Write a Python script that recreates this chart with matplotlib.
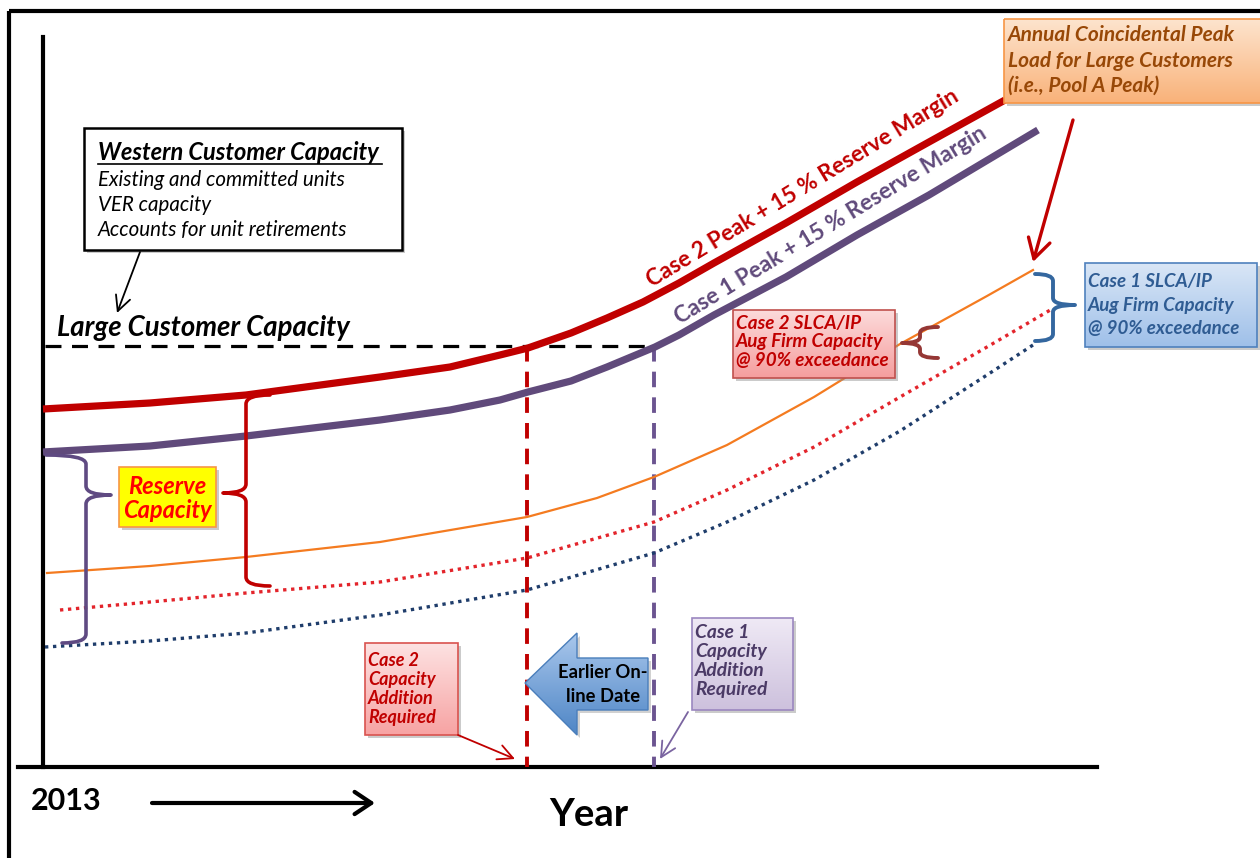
import numpy as np
import matplotlib
matplotlib.use('Agg')
import matplotlib.pyplot as plt
from matplotlib.patches import Polygon, Rectangle, PathPatch
from matplotlib.path import Path
import matplotlib.colors as mcolors

plt.rcParams['font.family'] = ['Lato', 'DejaVu Sans']

# ---------------- data (diagram space: x = time position, y = capacity level, drawn top-down) ----------------
case2_peak_x = [43, 150, 246, 380, 450, 500, 528, 571, 607, 643, 679, 714, 786, 857, 929, 1005]
case2_peak_y = [409, 403, 395, 377, 367, 355, 348, 333, 318, 302, 283, 263, 223, 182, 142, 100]
case1_peak_x = [43, 150, 246, 380, 450, 500, 528, 571, 607, 655, 679, 714, 786, 857, 929, 1038]
case1_peak_y = [452, 446, 436, 420, 410, 400, 392, 381, 367, 347, 335, 315, 277, 235, 195, 130]
pool_a_peak_x = [47, 150, 246, 380, 527, 597, 654, 727, 814, 900, 987, 1033]
pool_a_peak_y = [573, 566, 557, 542, 517, 498, 477, 445, 397, 344, 296, 270]
case2_slca_x = [60, 150, 246, 380, 527, 654, 727, 814, 900, 987, 1052]
case2_slca_y = [610, 602, 593, 582, 558, 522, 490, 447, 397, 347, 309]
case1_slca_x = [45, 150, 246, 380, 527, 654, 727, 814, 900, 987, 1033]
case1_slca_y = [647, 641, 633, 615, 590, 553, 522, 480, 431, 375, 345]
large_customer_capacity = 346
case2_addition_x = 527
case1_addition_x = 654
axis_origin_x = 43
axis_origin_y = 767

RED = '#c00000'
PURPLE = '#604a7b'
ORANGE = '#f47b20'
RED_DOT = '#e3242b'
NAVY = '#1f3d6b'

fig = plt.figure(figsize=(12.6, 8.58), dpi=100)
ax = fig.add_axes([0, 0, 1, 1])
ax.set_xlim(0, 1260)
ax.set_ylim(858, 0)
ax.axis('off')

# outer frame
ax.plot([9, 9], [11, 858], color='black', lw=3, solid_capstyle='butt', zorder=1)
ax.plot([9, 1260], [11, 11], color='black', lw=3, solid_capstyle='butt', zorder=1)

# axes
ax.plot([axis_origin_x, axis_origin_x], [37, axis_origin_y], color='black', lw=3, zorder=2)
ax.plot([18, 1097], [axis_origin_y, axis_origin_y], color='black', lw=3, zorder=2)

# horizontal capacity line
ax.plot([45, case1_addition_x], [large_customer_capacity] * 2, color='black', lw=2.3,
        linestyle=(0, (5, 3.3)), zorder=3)
# vertical addition lines
ax.plot([case2_addition_x] * 2, [large_customer_capacity, axis_origin_y], color=RED, lw=2.8,
        linestyle=(0, (4, 2.6)), zorder=3)
ax.plot([case1_addition_x] * 2, [large_customer_capacity, axis_origin_y], color='#6b5490', lw=2.8,
        linestyle=(0, (4, 2.6)), zorder=3)

# curves
ax.plot(case2_peak_x, case2_peak_y, color=RED, lw=5.2, solid_joinstyle='round', solid_capstyle='butt', zorder=4)
ax.plot(case1_peak_x, case1_peak_y, color=PURPLE, lw=5.2, solid_joinstyle='round', solid_capstyle='butt', zorder=4)
ax.plot(pool_a_peak_x, pool_a_peak_y, color=ORANGE, lw=1.6, solid_joinstyle='round', zorder=4)
ax.plot(case2_slca_x, case2_slca_y, color=RED_DOT, lw=2.4, linestyle=(0, (1, 1.4)), zorder=4)
ax.plot(case1_slca_x, case1_slca_y, color=NAVY, lw=2.4, linestyle=(0, (1, 1.4)), zorder=4)

# rotated labels
ax.text(803, 188, 'Case 2 Peak + 15 % Reserve Margin', rotation=31.3, rotation_mode='anchor',
        ha='center', va='center', fontsize=16.3, fontweight='bold', color=RED, zorder=6)
ax.text(831, 225, 'Case 1 Peak + 15 % Reserve Margin', rotation=31.3, rotation_mode='anchor',
        ha='center', va='center', fontsize=16.3, fontweight='bold', color=PURPLE, zorder=6)


def gbox(x0, y0, x1, y1, c_top, c_bot, edge, lw=1.0, shadow=True, z=6):
    if shadow:
        ax.add_patch(Rectangle((x0 + 3, y0 + 3), x1 - x0, y1 - y0, fc='#8c8c8c', ec='none',
                               alpha=0.45, zorder=z - 0.2))
    rect = Rectangle((x0, y0), x1 - x0, y1 - y0, fc='none', ec=edge, lw=lw, zorder=z + 0.1)
    ax.add_patch(rect)
    g = np.linspace(0, 1, 64)[:, None, None]
    img = np.array(mcolors.to_rgb(c_top)) * (1 - g) + np.array(mcolors.to_rgb(c_bot)) * g
    im = ax.imshow(img, extent=(x0, x1, y1, y0), origin='upper', aspect='auto',
                   interpolation='bilinear', zorder=z)
    im.set_clip_path(rect)


def lines(x, ys, texts, color, size, weight='bold', style='italic', ha='left', z=7):
    for y, t in zip(ys, texts):
        ax.text(x, y, t, color=color, fontsize=size, fontweight=weight, fontstyle=style,
                ha=ha, va='center', zorder=z)


def brace(x, y0, y1, ym, tip, hook_top, hook_bot, color, lw, r=9):
    verts = [(x + hook_top, y0), (x, y0), (x, y0 + r),
             (x, ym - r), (x, ym), (x + tip, ym),
             (x, ym), (x, ym + r),
             (x, y1 - r), (x, y1), (x + hook_bot, y1)]
    codes = [Path.MOVETO, Path.CURVE3, Path.CURVE3,
             Path.LINETO, Path.CURVE3, Path.CURVE3,
             Path.CURVE3, Path.CURVE3,
             Path.LINETO, Path.CURVE3, Path.CURVE3]
    ax.add_patch(PathPatch(Path(verts, codes), fc='none', ec=color, lw=lw, zorder=5,
                           capstyle='round', joinstyle='round'))


# braces
brace(246, 395, 586, 493, -23, 24, 24, '#c00000', 2.6)
brace(86, 455, 643, 495, 25, -40, -24, '#5f4a82', 2.6)
brace(1053, 274, 341, 305, 22, -18, -18, '#34679f', 2.8, r=7)
brace(920, 327, 358, 343, -18, 18, 18, '#953735', 2.8, r=6)

# Western Customer Capacity box
ax.add_patch(Rectangle((87, 131), 318, 122, fc='#8c8c8c', ec='none', alpha=0.45, zorder=5.8))
ax.add_patch(Rectangle((84, 128), 318, 122, fc='white', ec='black', lw=1.8, zorder=6))
ax.text(98, 152, 'Western Customer Capacity', fontsize=17, fontweight='bold', fontstyle='italic',
        color='black', ha='left', va='center', zorder=7)
ax.plot([98, 382], [164, 164], color='black', lw=1.2, zorder=7)
lines(98, [180, 205, 230], ['Existing and committed units', 'VER capacity',
                           'Accounts for unit retirements'], 'black', 14.8, weight='normal')
ax.annotate('', xy=(117, 313), xytext=(140, 252),
            arrowprops=dict(arrowstyle='->,head_length=0.6,head_width=0.3', color='black', lw=1.3,
                            shrinkA=0, shrinkB=0, mutation_scale=18), zorder=7)
ax.text(57, 328, 'Large Customer Capacity', fontsize=19.8, fontweight='bold', fontstyle='italic',
        color='black', ha='left', va='center', zorder=7)

# Reserve capacity box
gbox(119, 467, 216, 527, '#ffff00', '#ffff00', '#f79646', lw=1.2)
lines(167, [486, 510], ['Reserve', 'Capacity'], '#ff0000', 17, ha='center')

# Orange annotation box
gbox(1004, 19, 1262, 103, '#fde4cd', '#f9b27a', '#f79646', lw=1.2)
lines(1008, [35, 61, 86], ['Annual Coincidental Peak', 'Load for Large Customers',
                           '(i.e., Pool A Peak)'], '#984807', 15)
ax.annotate('', xy=(1033, 262), xytext=(1073, 120),
            arrowprops=dict(arrowstyle='->,head_length=0.7,head_width=0.4', color=RED, lw=2.4,
                            shrinkA=0, shrinkB=0, mutation_scale=20), zorder=7)

# Case 1 SLCA/IP box
gbox(1085, 263, 1257, 347, '#d9e6f6', '#9fc0e9', '#4f81bd', lw=1.2)
lines(1088, [282, 305, 328], ['Case 1 SLCA/IP', 'Aug Firm Capacity', '@ 90% exceedance'], '#2f5c93', 13.5)

# Case 2 SLCA/IP box
gbox(733, 310, 895, 378, '#fcdada', '#f59e9e', '#c0504d', lw=1.2)
lines(736, [323, 342, 361], ['Case 2 SLCA/IP', 'Aug Firm Capacity', '@ 90% exceedance'], RED, 13.6)

# Case 2 capacity addition box
gbox(365, 643, 458, 735, '#fde2e2', '#f7a3a3', '#d9534f', lw=1.2)
lines(368, [660, 679, 698, 717], ['Case 2', 'Capacity', 'Addition', 'Required'], RED, 13)
ax.annotate('', xy=(515, 759), xytext=(458, 735),
            arrowprops=dict(arrowstyle='->,head_length=0.6,head_width=0.3', color=RED, lw=1.3,
                            shrinkA=0, shrinkB=0, mutation_scale=18), zorder=7)

# Case 1 capacity addition box
gbox(692, 618, 793, 710, '#efe9f5', '#cdc1dd', '#9b87c0', lw=1.2)
lines(695, [633, 652, 671, 690], ['Case 1', 'Capacity', 'Addition', 'Required'], '#4b3a66', 13.8)
ax.annotate('', xy=(660, 759), xytext=(688, 712),
            arrowprops=dict(arrowstyle='->,head_length=0.6,head_width=0.3', color='#7a64a0', lw=1.3,
                            shrinkA=0, shrinkB=0, mutation_scale=18), zorder=7)

# Earlier on-line date block arrow
tip = (525, 683)
head_x, shaft_x1 = 577, 648
head_y0, head_y1 = 633, 735
shaft_y0, shaft_y1 = 658, 710
pts = [tip, (head_x, head_y0), (head_x, shaft_y0), (shaft_x1, shaft_y0),
       (shaft_x1, shaft_y1), (head_x, shaft_y1), (head_x, head_y1)]
ax.add_patch(Polygon([(p[0] + 3, p[1] + 3) for p in pts], closed=True, fc='#8c8c8c', ec='none',
                     alpha=0.4, zorder=5.8))
poly = Polygon(pts, closed=True, fc='none', ec='#4a7ebb', lw=1.0, zorder=6.1)
ax.add_patch(poly)
g = np.linspace(0, 1, 64)[:, None, None]
img = np.array(mcolors.to_rgb('#a9c7ec')) * (1 - g) + np.array(mcolors.to_rgb('#4f86c6')) * g
im = ax.imshow(img, extent=(tip[0], shaft_x1, head_y1, head_y0), origin='upper', aspect='auto',
               interpolation='bilinear', zorder=6)
im.set_clip_path(poly)
lines(603, [673, 697], ['Earlier On-', 'line Date'], 'black', 13.2, style='normal', ha='center')

# bottom labels
ax.text(31, 801, '2013', fontsize=22, fontweight='bold', color='black', ha='left', va='center', zorder=7)
ax.annotate('', xy=(375, 803), xytext=(152, 803),
            arrowprops=dict(arrowstyle='->,head_length=0.6,head_width=0.4', color='black', lw=3,
                            shrinkA=0, shrinkB=0, mutation_scale=20), zorder=7)
ax.text(589, 815, 'Year', fontsize=27.5, fontweight='bold', color='black', ha='center', va='center', zorder=7)

ax.set_xlim(0, 1260)
ax.set_ylim(858, 0)
fig.savefig('out.png', dpi=100)
